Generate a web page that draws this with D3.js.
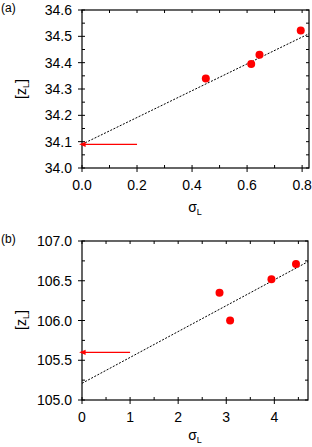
<!DOCTYPE html>
<html>
<head>
<meta charset="utf-8">
<script src="https://cdn.jsdelivr.net/npm/d3@7"></script>
<style>
  body { margin: 0; background: #fff; }
  svg { display: block; font-family: "Liberation Sans", Arial, sans-serif; }
</style>
</head>
<body>
<svg id="chart" width="312" height="447"></svg>
<script>
// panel (a)
const sigmaA = [0.45, 0.615, 0.645, 0.795];
const zA = [34.34, 34.395, 34.43, 34.522];
const fitA = [[0, 34.09], [0.825, 34.51]];
const arrowA = [0.2, 34.09];
const xTicksA = [0, 0.2, 0.4, 0.6, 0.8];
const yTicksA = [34.0, 34.1, 34.2, 34.3, 34.4, 34.5, 34.6];

// panel (b)
const sigmaB = [2.86, 3.08, 3.94, 4.45];
const zB = [106.35, 106.0, 106.52, 106.71];
const fitB = [[0, 105.21], [4.7, 106.74]];
const arrowB = [1, 105.6];
const xTicksB = [0, 1, 2, 3, 4];
const yTicksB = [105.0, 105.5, 106.0, 106.5, 107.0];

const svg = d3.select("#chart");

svg.append("defs").append("marker")
  .attr("id", "head")
  .attr("viewBox", "0 0 10 10")
  .attr("refX", 1).attr("refY", 5)
  .attr("markerWidth", 5).attr("markerHeight", 5)
  .attr("orient", "auto-start-reverse")
  .append("path")
  .attr("d", "M10,5 L0,1 L0,9 Z")
  .attr("fill", "red");

function panel(opts) {
  const x = d3.scaleLinear().domain(opts.xDomain).range([82, opts.right]);
  const y = d3.scaleLinear().domain(opts.yDomain).range([opts.bottom, opts.top]);
  const g = svg.append("g");
  const fmtY = d3.format(".1f");
  const isMajor = (list, d) => list.some(t => Math.abs(t - d) < 1e-9);

  // minor/major ticks on all four sides
  const xMinor = d3.range(opts.xDomain[0], opts.xDomain[1] + 1e-9, opts.xMinor);
  const yMinor = d3.range(opts.yDomain[0], opts.yDomain[1] + 1e-9, opts.yMinor);

  g.selectAll(".xt").data(xMinor).enter().append("line")
    .attr("x1", d => x(d)).attr("x2", d => x(d))
    .attr("y1", d => opts.bottom + (isMajor(opts.xTicks, d) ? 4 : 0))
    .attr("y2", opts.bottom - 3)
    .attr("stroke", "#000");
  g.selectAll(".xtt").data(xMinor).enter().append("line")
    .attr("x1", d => x(d)).attr("x2", d => x(d))
    .attr("y1", opts.top).attr("y2", opts.top + 3)
    .attr("stroke", "#000");
  g.selectAll(".yt").data(yMinor).enter().append("line")
    .attr("y1", d => y(d)).attr("y2", d => y(d))
    .attr("x1", d => 82 - (isMajor(opts.yTicks, d) ? 4 : 0))
    .attr("x2", 85)
    .attr("stroke", "#000");
  g.selectAll(".ytr").data(yMinor).enter().append("line")
    .attr("y1", d => y(d)).attr("y2", d => y(d))
    .attr("x1", opts.right - 3).attr("x2", opts.right)
    .attr("stroke", "#000");

  g.append("rect")
    .attr("x", 82).attr("y", opts.top)
    .attr("width", opts.right - 82).attr("height", opts.bottom - opts.top)
    .attr("fill", "none").attr("stroke", "#000").attr("stroke-width", 1.2);

  // tick labels
  g.selectAll(".xl").data(opts.xTicks).enter().append("text")
    .attr("x", d => x(d)).attr("y", opts.bottom + 22)
    .attr("text-anchor", "middle").attr("font-size", 14)
    .text(opts.xFmt);
  g.selectAll(".yl").data(opts.yTicks).enter().append("text")
    .attr("x", 72).attr("y", d => y(d) + 5)
    .attr("text-anchor", "end").attr("font-size", 14)
    .text(fmtY);

  // fit line
  g.append("line")
    .attr("x1", x(opts.fit[0][0])).attr("y1", y(opts.fit[0][1]))
    .attr("x2", x(opts.fit[1][0])).attr("y2", y(opts.fit[1][1]))
    .attr("stroke", "#000").attr("stroke-width", 1)
    .attr("stroke-dasharray", "2,1.5");

  // arrow
  g.append("line")
    .attr("x1", x(opts.arrow[0])).attr("y1", y(opts.arrow[1]))
    .attr("x2", x(opts.xDomain[0]) + 3).attr("y2", y(opts.arrow[1]))
    .attr("stroke", "red").attr("stroke-width", 1.3)
    .attr("marker-end", "url(#head)");

  // points
  g.selectAll("circle").data(opts.xs).enter().append("circle")
    .attr("cx", d => x(d)).attr("cy", (d, i) => y(opts.ys[i]))
    .attr("r", 4).attr("fill", "red");

  // labels
  g.append("text").attr("x", 1).attr("y", opts.top + 2)
    .attr("font-size", 12).text(opts.tag);
  const yl = g.append("text")
    .attr("transform", `translate(26,${opts.midY}) rotate(-90)`)
    .attr("text-anchor", "middle").attr("font-size", 14);
  yl.append("tspan").text("[z");
  yl.append("tspan").attr("font-size", 9).attr("dy", 3).text("L");
  yl.append("tspan").attr("dy", -3).text("]");
  const xl = g.append("text")
    .attr("x", 195).attr("y", opts.bottom + opts.xlabOff)
    .attr("text-anchor", "middle").attr("font-size", 14);
  xl.append("tspan").text("σ");
  xl.append("tspan").attr("font-size", 9).attr("dy", 3).text("L");
}

panel({
  tag: "(a)", top: 10, bottom: 168, right: 309,
  xDomain: [0, 0.825], yDomain: [34.0, 34.6],
  xMinor: 0.1, yMinor: 0.05,
  xTicks: xTicksA, yTicks: yTicksA, xFmt: d3.format(".1f"),
  xs: sigmaA, ys: zA, fit: fitA, arrow: arrowA, midY: 89, xlabOff: 44
});

panel({
  tag: "(b)", top: 241, bottom: 400, right: 308,
  xDomain: [0, 4.7], yDomain: [105.0, 107.0],
  xMinor: 0.5, yMinor: 0.25,
  xTicks: xTicksB, yTicks: yTicksB, xFmt: d3.format("d"),
  xs: sigmaB, ys: zB, fit: fitB, arrow: arrowB, midY: 320, xlabOff: 40
});
</script>
</body>
</html>
